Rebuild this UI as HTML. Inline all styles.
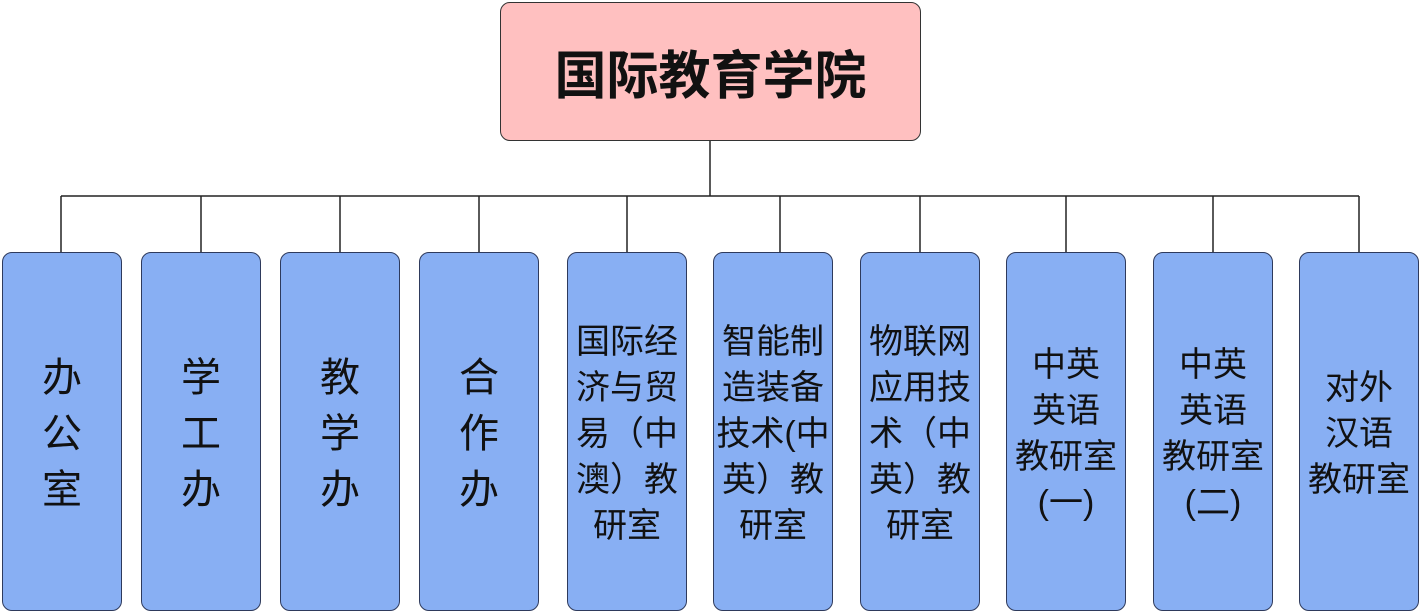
<!DOCTYPE html>
<html><head><meta charset="utf-8"><style>
body{margin:0;width:1421px;height:613px;background:#fff;position:relative;overflow:hidden;font-family:"Liberation Sans","Noto Sans CJK SC",sans-serif;}
.b{position:absolute;box-sizing:border-box;top:252px;width:120px;height:359px;background:#88aff3;border:1.5px solid #2e3a5c;border-radius:10px;display:flex;align-items:center;justify-content:center;text-align:center;color:#111;}
.big{font-size:40px;line-height:56px;padding-top:4px}
.sm{font-size:34px;line-height:46px;padding-top:4px;white-space:nowrap}
.top{position:absolute;box-sizing:border-box;left:500px;top:2px;width:421px;height:139px;background:#ffc0c0;border:1.5px solid #333;border-radius:10px;display:flex;align-items:center;justify-content:center;font-size:52px;font-weight:bold;color:#111;}
</style></head><body>
<svg style="position:absolute;left:0;top:0" width="1421" height="613">
<g stroke="#222" stroke-width="1.5" fill="none">
<line x1="710" y1="141" x2="710" y2="196"/>
<line x1="61" y1="196" x2="1359" y2="196"/>
<line x1="61" y1="196" x2="61" y2="252"/>
<line x1="201" y1="196" x2="201" y2="252"/>
<line x1="340" y1="196" x2="340" y2="252"/>
<line x1="479" y1="196" x2="479" y2="252"/>
<line x1="627" y1="196" x2="627" y2="252"/>
<line x1="780" y1="196" x2="780" y2="252"/>
<line x1="920" y1="196" x2="920" y2="252"/>
<line x1="1066" y1="196" x2="1066" y2="252"/>
<line x1="1213" y1="196" x2="1213" y2="252"/>
<line x1="1359" y1="196" x2="1359" y2="252"/>
</g></svg>
<div class="top">国际教育学院</div>
<div class="b big" style="left:2px">办<br>公<br>室</div>
<div class="b big" style="left:141px">学<br>工<br>办</div>
<div class="b big" style="left:280px">教<br>学<br>办</div>
<div class="b big" style="left:419px">合<br>作<br>办</div>
<div class="b sm" style="left:567px">国际经<br>济与贸<br>易（中<br>澳）教<br>研室</div>
<div class="b sm" style="left:713px">智能制<br>造装备<br>技术(中<br>英）教<br>研室</div>
<div class="b sm" style="left:860px">物联网<br>应用技<br>术（中<br>英）教<br>研室</div>
<div class="b sm" style="left:1006px">中英<br>英语<br>教研室<br>(一)</div>
<div class="b sm" style="left:1153px">中英<br>英语<br>教研室<br>(二)</div>
<div class="b sm" style="left:1299px">对外<br>汉语<br>教研室</div>
</body></html>
